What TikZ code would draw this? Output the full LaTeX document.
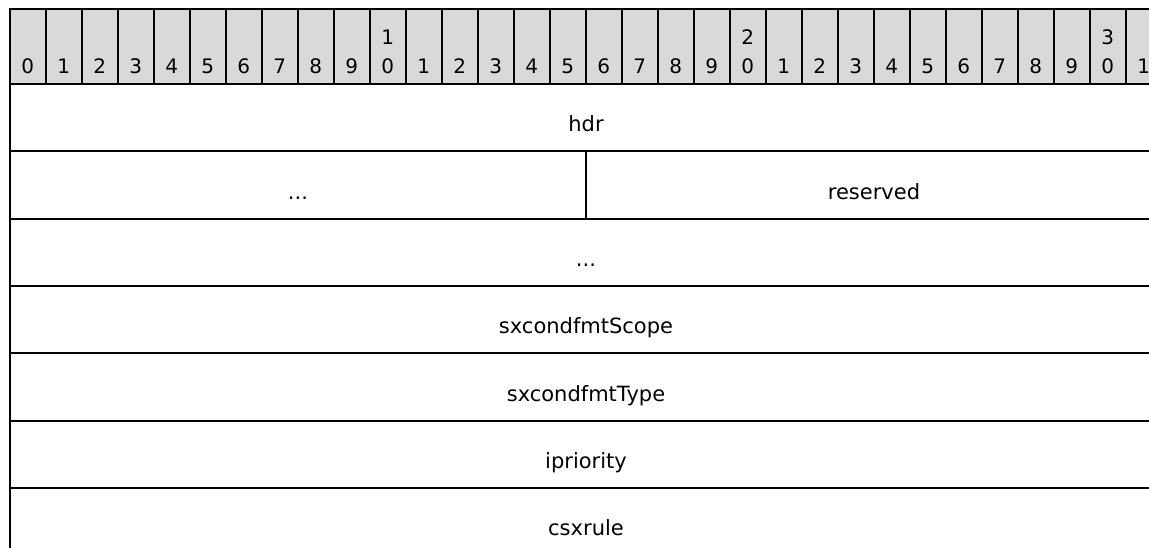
\documentclass[tikz,border=0pt]{standalone}
\usepackage{fontspec}
\setmainfont{DejaVu Sans}
\definecolor{hdrgray}{HTML}{D9D9D9}
\begin{document}
\begin{tikzpicture}[x=1pt,y=-1pt,
  bitcell/.style={draw, line width=1.6pt, fill=hdrgray, minimum width=36pt, minimum height=75pt, inner sep=0pt, anchor=north west},
  field/.style={draw, line width=2pt, inner sep=0pt, anchor=north west, minimum height=67.3pt},
  lbl/.style={font=\fontsize{21}{25}\selectfont, anchor=base, inner sep=0pt},
  dig/.style={font=\fontsize{20}{24}\selectfont, anchor=base, inner sep=0pt}]
\useasboundingbox (0,0) rectangle (1149,548);
% header row of bit numbers
\foreach \i in {0,...,31} {
  \node[bitcell] (b\i) at (9+36*\i,8) {};
  \pgfmathtruncatemacro{\tens}{int(\i/10)}
  \pgfmathtruncatemacro{\units}{\i-10*\tens}
  \path (b\i.north) ++(0,65.3) node[dig] (d\i) {\units};
  \ifnum\i>0 \ifnum\units=0
    \path (b\i.north) ++(0,36.3) node[dig] (t\i) {\tens};
  \fi\fi
}
% fields
\node[field, minimum width=1152pt] (hdr) at (9,83) {};
\path (hdr.north) ++(0,49) node[lbl] (hdrl) {hdr};
\node[field, minimum width=576pt] (dots1) at (9,150.3) {};
\path (dots1.north) ++(0,49) node[lbl] (dots1l) {...};
\node[field, minimum width=576pt] (res) at (585,150.3) {};
\path (res.north) ++(0,49) node[lbl] (resl) {reserved};
\node[field, minimum width=1152pt] (dots2) at (9,217.6) {};
\path (dots2.north) ++(0,49) node[lbl] (dots2l) {...};
\node[field, minimum width=1152pt] (scope) at (9,284.9) {};
\path (scope.north) ++(0,49) node[lbl] (scopel) {sxcondfmtScope};
\node[field, minimum width=1152pt] (type) at (9,352.2) {};
\path (type.north) ++(0,49) node[lbl] (typel) {sxcondfmtType};
\node[field, minimum width=1152pt] (prio) at (9,419.5) {};
\path (prio.north) ++(0,49) node[lbl] (priol) {ipriority};
\node[field, minimum width=1152pt] (rule) at (9,486.8) {};
\path (rule.north) ++(0,49) node[lbl] (rulel) {csxrule};
\end{tikzpicture}
\end{document}
